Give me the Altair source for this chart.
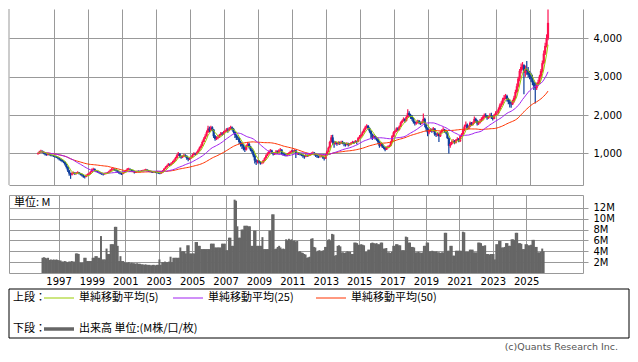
import altair as alt
import pandas as pd

# ---------------- data (monthly, Jan 1996 - Jan 2026) ----------------
START_YEAR = 1996
first_open = 990

close = [
    1010, 1050, 1070, 1040, 1000, 980, 960, 990, 970, 950, 940, 930,          # 1996
    920, 900, 880, 850, 830, 800, 780, 720, 650, 560, 480, 450,               # 1997
    480, 500, 470, 490, 510, 480, 460, 430, 400, 390, 430, 450,               # 1998
    470, 520, 580, 600, 560, 540, 520, 500, 480, 470, 460, 480,               # 1999
    490, 500, 530, 560, 590, 600, 580, 560, 530, 500, 480, 470,               # 2000
    500, 530, 560, 590, 600, 580, 560, 540, 510, 520, 540, 530,               # 2001
    540, 550, 560, 570, 580, 560, 540, 530, 520, 510, 520, 510,               # 2002
    500, 490, 480, 510, 550, 600, 640, 680, 720, 700, 740, 780,               # 2003
    820, 880, 950, 1000, 930, 900, 920, 960, 940, 880, 850, 870,              # 2004
    900, 960, 1000, 980, 1020, 1080, 1150, 1200, 1300, 1380, 1450, 1550,      # 2005
    1650, 1600, 1680, 1620, 1450, 1380, 1400, 1420, 1480, 1520, 1500, 1560,   # 2006
    1580, 1620, 1600, 1650, 1680, 1640, 1560, 1480, 1420, 1400, 1300, 1250,   # 2007
    1200, 1150, 1100, 1200, 1250, 1180, 1100, 1050, 950, 820, 780, 800,       # 2008
    780, 750, 760, 820, 880, 950, 1000, 1050, 1080, 1020, 980, 1000,          # 2009
    1050, 1020, 1080, 1100, 1000, 980, 960, 950, 980, 1000, 1040, 1060,       # 2010
    1050, 1080, 1000, 1000, 990, 980, 960, 940, 920, 960, 940, 950,           # 2011
    980, 1000, 1020, 990, 950, 930, 920, 920, 940, 900, 870, 960,             # 2012
    1050, 1150, 1300, 1420, 1300, 1250, 1280, 1250, 1290, 1260, 1300, 1280,   # 2013
    1250, 1230, 1260, 1220, 1240, 1280, 1300, 1280, 1320, 1300, 1400, 1440,   # 2014
    1480, 1550, 1620, 1680, 1720, 1660, 1580, 1500, 1420, 1450, 1400, 1380,   # 2015
    1300, 1200, 1250, 1180, 1150, 1100, 1150, 1180, 1200, 1300, 1450, 1550,   # 2016
    1580, 1650, 1620, 1700, 1800, 1850, 1900, 1850, 1950, 2050, 2000, 1950,   # 2017
    1900, 1820, 1780, 1800, 1850, 1800, 1780, 1820, 1900, 1750, 1650, 1550,   # 2018
    1600, 1620, 1580, 1650, 1500, 1480, 1520, 1450, 1550, 1600, 1620, 1580,   # 2019
    1550, 1400, 1200, 1250, 1300, 1320, 1280, 1350, 1380, 1320, 1450, 1500,   # 2020
    1600, 1700, 1750, 1650, 1700, 1800, 1750, 1800, 1900, 1850, 1780, 1800,   # 2021
    1850, 1900, 1950, 2000, 1980, 1920, 1950, 2000, 1950, 1900, 2000, 2050,   # 2022
    2050, 2150, 2250, 2300, 2400, 2450, 2500, 2420, 2350, 2300, 2280, 2350,   # 2023
    2450, 2600, 2750, 2950, 3150, 3250, 3300, 3100, 3200, 3150, 3050, 3000,   # 2024
    2950, 2850, 2750, 2700, 2780, 2850, 3000, 3150, 3350, 3600, 3800, 4000,   # 2025
    4400,                                                                     # 2026
]

high = [
    1030, 1070, 1100, 1080, 1050, 1010, 1000, 1010, 1000, 980, 970, 960,
    950, 940, 920, 900, 870, 850, 820, 800, 740, 670, 580, 500,
    520, 530, 510, 520, 540, 520, 490, 470, 450, 420, 460, 480,
    500, 540, 610, 630, 610, 570, 550, 530, 510, 490, 480, 500,
    510, 520, 550, 590, 620, 630, 610, 590, 570, 540, 510, 500,
    520, 550, 580, 620, 630, 610, 590, 570, 550, 540, 560, 560,
    560, 570, 580, 590, 600, 590, 570, 550, 540, 530, 540, 530,
    520, 510, 500, 530, 570, 620, 670, 710, 750, 740, 770, 810,
    850, 910, 980, 1040, 1010, 950, 950, 990, 980, 950, 900, 900,
    930, 990, 1030, 1020, 1050, 1110, 1180, 1240, 1340, 1420, 1500, 1600,
    1720, 1700, 1720, 1710, 1640, 1480, 1450, 1460, 1510, 1560, 1560, 1590,
    1620, 1660, 1670, 1690, 1720, 1700, 1660, 1580, 1500, 1460, 1420, 1330,
    1280, 1240, 1180, 1230, 1300, 1280, 1200, 1130, 1080, 980, 850, 840,
    830, 800, 790, 840, 900, 980, 1030, 1080, 1120, 1100, 1040, 1030,
    1090, 1080, 1110, 1140, 1110, 1030, 1000, 990, 1010, 1030, 1070, 1100,
    1090, 1110, 1100, 1040, 1030, 1010, 1000, 980, 960, 990, 980, 980,
    1000, 1030, 1050, 1040, 1000, 970, 950, 950, 970, 950, 910, 990,
    1080, 1180, 1330, 1480, 1490, 1330, 1320, 1300, 1320, 1310, 1330, 1330,
    1300, 1280, 1290, 1280, 1270, 1300, 1330, 1320, 1350, 1340, 1430, 1480,
    1510, 1580, 1650, 1720, 1760, 1740, 1680, 1600, 1520, 1490, 1470, 1430,
    1390, 1320, 1280, 1270, 1210, 1170, 1180, 1210, 1230, 1330, 1480, 1580,
    1610, 1680, 1680, 1730, 1830, 1880, 1940, 1920, 1980, 2150, 2100, 2030,
    2000, 1930, 1850, 1840, 1880, 1870, 1830, 1850, 2040, 1930, 1770, 1680,
    1640, 1660, 1650, 1690, 1660, 1530, 1550, 1540, 1580, 1630, 1680, 1640,
    1620, 1580, 1420, 1300, 1340, 1380, 1350, 1380, 1420, 1400, 1470, 1530,
    1640, 1750, 1830, 1780, 1730, 1830, 1820, 1830, 1960, 1930, 1880, 1850,
    1900, 1940, 1990, 2040, 2050, 2000, 1980, 2050, 2060, 1980, 2030, 2100,
    2120, 2200, 2300, 2360, 2450, 2520, 2550, 2530, 2450, 2400, 2350, 2400,
    2500, 2660, 2820, 3000, 3200, 3340, 3380, 3320, 3290, 3410, 3250, 3150,
    3100, 3050, 2900, 2850, 2850, 2920, 3050, 3200, 3420, 3680, 3880, 4100,
    4750,
]

low = [
    970, 990, 1030, 1010, 980, 950, 940, 950, 950, 930, 920, 910,
    890, 880, 850, 820, 800, 770, 750, 690, 610, 520, 420, 340,
    430, 460, 440, 450, 470, 450, 430, 400, 370, 350, 380, 420,
    440, 460, 510, 560, 540, 510, 500, 480, 460, 440, 430, 450,
    460, 470, 490, 520, 550, 570, 550, 530, 500, 470, 450, 440,
    460, 490, 520, 550, 570, 560, 540, 520, 480, 490, 510, 510,
    510, 530, 540, 550, 560, 540, 520, 510, 500, 490, 500, 490,
    480, 470, 460, 470, 500, 540, 590, 630, 670, 670, 690, 730,
    770, 810, 870, 930, 890, 860, 880, 910, 900, 840, 800, 830,
    860, 890, 950, 950, 970, 1010, 1070, 1130, 1190, 1290, 1370, 1440,
    1530, 1550, 1580, 1580, 1400, 1330, 1350, 1370, 1400, 1460, 1460, 1490,
    1530, 1560, 1540, 1580, 1620, 1600, 1520, 1400, 1350, 1350, 1250, 1180,
    1120, 1080, 1040, 1080, 1180, 1130, 1060, 1000, 900, 740, 700, 740,
    740, 710, 720, 740, 800, 860, 930, 980, 1030, 990, 950, 960,
    980, 990, 1000, 1050, 970, 940, 930, 920, 930, 960, 990, 1020,
    1020, 1030, 880, 960, 960, 950, 930, 890, 860, 900, 910, 920,
    940, 960, 980, 950, 910, 880, 880, 890, 900, 860, 820, 860,
    950, 1030, 1130, 1280, 1220, 1150, 1230, 1200, 1230, 1220, 1250, 1240,
    1190, 1180, 1210, 1180, 1200, 1230, 1260, 1250, 1270, 1240, 1290, 1380,
    1410, 1460, 1530, 1600, 1650, 1620, 1540, 1400, 1350, 1390, 1360, 1330,
    1250, 1150, 1180, 1140, 1110, 1060, 1090, 1130, 1160, 1190, 1280, 1430,
    1520, 1560, 1580, 1600, 1690, 1780, 1830, 1800, 1830, 1930, 1950, 1900,
    1850, 1780, 1730, 1750, 1780, 1760, 1740, 1760, 1800, 1680, 1580, 1450,
    1500, 1560, 1540, 1560, 1460, 1430, 1450, 1300, 1430, 1530, 1580, 1540,
    1500, 1380, 1000, 1150, 1220, 1260, 1240, 1260, 1330, 1290, 1300, 1430,
    1480, 1580, 1680, 1620, 1630, 1680, 1720, 1730, 1780, 1800, 1730, 1740,
    1780, 1820, 1860, 1920, 1930, 1880, 1900, 1930, 1900, 1860, 1890, 1980,
    2000, 2020, 2120, 2210, 2270, 2370, 2410, 2350, 2280, 2200, 2190, 2260,
    2320, 2420, 2570, 2720, 2880, 3080, 3180, 2540, 3000, 3050, 2980, 2930,
    2870, 2780, 2650, 2300, 2650, 2750, 2820, 2950, 3100, 3320, 3560, 3760,
    3950,
]

# volume, millions of shares
volume = [
    2.8, 2.9, 2.8, 2.7, 2.8, 2.4, 2.5, 2.4, 2.5, 2.4, 2.5, 2.4,
    2.3, 2.3, 2.1, 2.1, 2.2, 2.1, 2.0, 2.1, 2.1, 2.2, 2.1, 2.1,
    3.6, 3.6, 3.5, 1.9, 1.9, 1.9, 2.8, 2.8, 2.2, 2.2, 2.2, 2.2,
    2.8, 2.8, 3.1, 3.1, 2.8, 2.8, 6.8, 2.5, 2.5, 2.5, 4.5, 3.5,
    3.5, 5.3, 5.3, 5.3, 8.5, 8.5, 5.0, 2.2, 3.1, 2.2, 2.2, 2.0,
    1.9, 1.9, 2.0, 1.8, 1.9, 1.8, 1.8, 1.7, 1.8, 1.7, 1.7, 1.6,
    1.6, 1.5, 1.6, 1.5, 1.5, 1.5, 1.4, 1.5, 1.5, 1.4, 1.5, 1.5,
    2.5, 1.5, 2.0, 2.0, 2.1, 2.0, 2.0, 2.1, 3.0, 2.0, 2.8, 2.8,
    2.8, 2.8, 2.8, 4.7, 4.0, 4.0, 4.0, 3.6, 5.1, 5.1, 3.6, 3.6,
    3.6, 3.6, 5.7, 5.7, 5.0, 5.0, 4.4, 4.4, 4.4, 4.4, 4.4, 4.4,
    4.4, 5.4, 5.4, 5.4, 4.7, 4.7, 4.7, 4.7, 4.7, 5.4, 5.4, 5.4,
    4.2, 4.2, 6.5, 6.5, 5.0, 5.0, 13.5, 13.3, 8.6, 6.5, 6.5, 8.0,
    8.0, 8.7, 8.7, 8.7, 8.6, 8.6, 5.0, 5.0, 7.8, 7.8, 5.0, 5.0,
    5.0, 5.0, 6.6, 4.4, 4.4, 4.4, 4.4, 7.8, 7.8, 10.8, 10.8, 4.4,
    4.5, 4.8, 5.0, 4.7, 4.4, 4.5, 4.4, 6.2, 6.0, 6.3, 6.1, 6.2,
    5.9, 6.0, 5.8, 5.9, 3.9, 4.0, 3.8, 3.7, 3.5, 3.4, 2.8, 2.9,
    3.0, 6.3, 6.4, 4.8, 4.7, 3.9, 4.1, 4.2, 4.0, 4.1, 4.2, 4.8,
    4.8, 6.1, 6.2, 6.0, 7.2, 7.1, 3.2, 3.3, 5.0, 5.1, 4.9, 3.8,
    3.8, 3.7, 3.8, 4.0, 3.9, 3.9, 3.5, 3.5, 5.6, 5.6, 5.5, 5.2,
    5.2, 5.3, 5.2, 5.1, 3.9, 3.9, 4.3, 4.3, 5.5, 5.6, 5.5, 5.4,
    5.5, 5.3, 5.3, 5.6, 5.6, 4.5, 4.5, 4.6, 3.8, 3.8, 3.7, 3.9,
    5.0, 5.0, 5.3, 5.3, 5.1, 5.1, 4.2, 4.2, 4.2, 6.7, 6.6, 5.6,
    5.6, 4.8, 4.8, 4.7, 3.8, 3.8, 3.9, 3.8, 3.7, 3.8, 5.0, 5.0,
    5.6, 5.6, 4.0, 4.0, 4.1, 4.0, 3.9, 4.0, 3.8, 3.8, 3.7, 3.8,
    3.8, 7.4, 7.4, 4.1, 4.1, 5.0, 5.0, 3.2, 3.2, 4.1, 4.1, 4.1,
    4.1, 4.1, 7.6, 7.5, 3.9, 3.9, 3.9, 4.3, 4.3, 4.3, 3.8, 3.8,
    3.8, 5.6, 5.6, 5.5, 5.0, 5.0, 5.1, 3.5, 3.5, 3.4, 3.5, 3.5,
    3.5, 2.5, 5.3, 5.3, 5.9, 5.9, 4.7, 4.7, 4.8, 5.5, 5.5, 5.0,
    5.0, 6.2, 6.2, 6.1, 7.4, 7.4, 5.5, 5.5, 5.4, 4.4, 4.4, 5.3,
    5.3, 5.1, 5.1, 5.2, 6.1, 6.1, 4.8, 4.8, 3.8, 3.8, 3.9, 4.5,
    4.0,
]

x_ticks = list(range(1997, 2026, 2))
price_ticks = [1000, 2000, 3000, 4000]
vol_ticks = [2, 4, 6, 8, 10, 12]

legend_top = "上段："
legend_bottom = "下段："
ma_labels = ["単純移動平均(5)", "単純移動平均(25)", "単純移動平均(50)"]
volume_label = "出来高 単位:(M株/口/枚)"
unit_label = "単位: M"
credit = "(c)Quants Research Inc."

# ---------------- styling ----------------
UP, DOWN = "#ff1050", "#0d3d9c"
C_MA5, C_MA25, C_MA50 = "#99cc00", "#a020f0", "#ff3300"
GRID = "#999999"
VOLC = "#666666"
NUM_FONT = "DejaVu Sans"
JP_FONT = "Noto Sans CJK JP"

W, HP, HV = 574, 176, 78

n = len(close)
opens = [first_open] + close[:-1]
df = pd.DataFrame({
    "t": [START_YEAR + (i + 0.5) / 12 for i in range(n)],
    "open": opens,
    "high": high,
    "low": low,
    "close": close,
    "volume": volume,
})
df["dir"] = ["up" if c >= o else "down" for o, c in zip(opens, close)]
one = pd.DataFrame({"k": [0]})

x_scale = alt.Scale(domain=[1994.335, 2028.1], nice=False, zero=False)
p_scale = alt.Scale(domain=[180, 4760], nice=False, zero=False)
v_scale = alt.Scale(domain=[0, 14.36], nice=False)

base = alt.Chart(df)
color = alt.Color("dir:N", scale=alt.Scale(domain=["up", "down"], range=[UP, DOWN]), legend=None)

x_price = alt.X("t:Q", scale=x_scale, title=None,
                axis=alt.Axis(values=x_ticks, labels=False, ticks=False, domain=True,
                              domainColor=GRID, grid=True, gridColor=GRID, gridWidth=1))
y_price = alt.Y("low:Q", scale=p_scale, title=None,
                axis=alt.Axis(orient="right", values=price_ticks,
                              labelExpr="format(datum.value, ',')", grid=True,
                              gridColor=GRID, tickColor=GRID, tickSize=5, domainColor=GRID,
                              labelFont=NUM_FONT, labelFontSize=10, labelColor="#000",
                              labelPadding=5))

wicks = base.mark_rule(strokeWidth=1.2).encode(x=x_price, y=y_price, y2="high:Q", color=color)
bodies = base.mark_rule(strokeWidth=2.2).encode(
    x=alt.X("t:Q", title=None), y=alt.Y("open:Q", title=None), y2="close:Q", color=color)


def ma_layer(name, k, col):
    return base.transform_window(
        **{name: "mean(close)"}, frame=[-(k - 1), 0], sort=[alt.SortField("t")]
    ).mark_line(color=col, strokeWidth=1).encode(
        x=alt.X("t:Q", title=None), y=alt.Y(f"{name}:Q", title=None))


left_border = alt.Chart(one).mark_rule(color=GRID).encode(
    x=alt.value(0), y=alt.value(0), y2=alt.value(HP))

price = alt.layer(
    wicks, bodies,
    ma_layer("ma50", 50, C_MA50),
    ma_layer("ma25", 25, C_MA25),
    ma_layer("ma5", 5, C_MA5),
    left_border,
).properties(width=W, height=HP, view=alt.ViewBackground(strokeOpacity=0))

x_vol = alt.X("t:Q", scale=x_scale, title=None,
              axis=alt.Axis(values=x_ticks, format="d", ticks=False, domain=False, grid=True,
                            gridColor=GRID, labelFont=NUM_FONT, labelFontSize=10,
                            labelColor="#000", labelPadding=3))
y_vol = alt.Y("volume:Q", scale=v_scale, title=None,
              axis=alt.Axis(orient="right", values=vol_ticks, labelExpr="datum.value + 'M'",
                            grid=True, gridColor=GRID, tickColor=GRID, tickSize=5,
                            domain=False, labelFont=NUM_FONT, labelFontSize=10,
                            labelColor="#000", labelPadding=5))

bars = base.mark_bar(width=2.0, color=VOLC).encode(x=x_vol, y=y_vol)


def txt(s, x, y, font=JP_FONT, size=11, col="#000", align="left", baseline="middle"):
    return alt.Chart(one).mark_text(text=s, align=align, baseline=baseline, font=font,
                                    fontSize=size, color=col).encode(
        x=alt.value(x), y=alt.value(y))


def hline(x1, x2, y, col, w=1):
    return alt.Chart(one).mark_rule(color=col, strokeWidth=w).encode(
        x=alt.value(x1), x2=alt.value(x2), y=alt.value(y))


box = alt.Chart(one).mark_rect(fill="transparent", stroke="#000", strokeWidth=1).encode(
    x=alt.value(0), x2=alt.value(620), y=alt.value(94), y2=alt.value(143))

ROW1, ROW2 = 103, 134
volume_chart = alt.layer(
    bars,
    txt(unit_label, 5, 8),
    box,
    txt(legend_top, 4, ROW1),
    hline(35, 65, ROW1, C_MA5),
    txt(ma_labels[0], 70, ROW1),
    hline(164, 194, ROW1, C_MA25),
    txt(ma_labels[1], 199, ROW1),
    hline(307, 337, ROW1, C_MA50),
    txt(ma_labels[2], 342, ROW1),
    txt(legend_bottom, 4, ROW2),
    hline(35, 65, ROW2, VOLC, 3.5),
    txt(volume_label, 70, ROW2),
    txt(credit, 609, 155, font=NUM_FONT, size=9.5, col="#555", align="right",
        baseline="alphabetic"),
).properties(width=W, height=HV)

chart = alt.vconcat(price, volume_chart, spacing=10, bounds="flush").properties(
    padding=0
).configure_view(stroke=GRID, strokeWidth=1)

chart.save("out.html", embed_options={"renderer": "svg", "actions": False})
